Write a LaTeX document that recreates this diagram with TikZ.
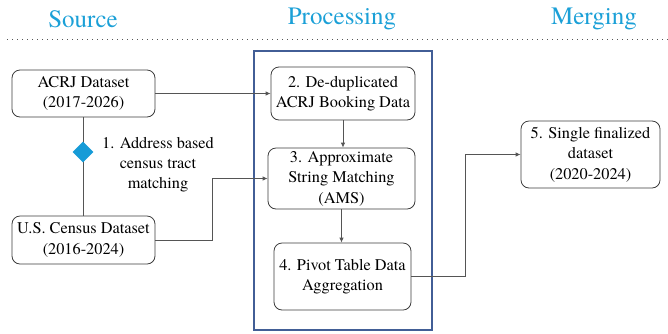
\documentclass[tikz,border=0pt]{standalone}
\usepackage{fontspec}
\setmainfont{texgyretermes}[Extension=.otf,UprightFont=*-regular,BoldFont=*-bold,ItalicFont=*-italic,BoldItalicFont=*-bolditalic]
\usetikzlibrary{arrows.meta,shapes.geometric}
\definecolor{headblue}{RGB}{27,160,215}
\definecolor{framecol}{RGB}{66,94,150}
\definecolor{linecol}{RGB}{85,85,85}
\definecolor{boxline}{RGB}{60,60,60}
\definecolor{diamondcol}{RGB}{22,155,215}
\tikzset{
  heading/.style={text=headblue,font=\fontsize{25}{28}\selectfont,inner sep=0pt},
  stepbox/.style={draw=boxline,line width=0.8pt,rounded corners=8pt,align=center,
    font=\fontsize{16.3}{20.5}\selectfont,inner sep=0pt},
  plain/.style={align=center,font=\fontsize{16.3}{20}\selectfont,inner sep=0pt},
  conn/.style={draw=linecol,line width=0.8pt},
  arr/.style={conn,-{Latex[length=5pt,width=4.5pt]}},
}
\begin{document}
\begin{tikzpicture}[x=1pt,y=-1pt]
\useasboundingbox (0,0) rectangle (668,333);

% column headings and divider
\node[heading] (hsrc) at (83,19) {Source};
\node[heading] (hproc) at (342,19) {Processing};
\node[heading] (hmerge) at (594,19) {Merging};
\draw[linecol,line width=1pt,dash pattern=on 1pt off 4pt] (7,39) -- (668,39);

% processing frame
\draw[framecol,line width=1.6pt] (254,51) rectangle (432,330);

% source boxes
\node[stepbox,minimum width=143pt,minimum height=47pt] (acrj) at (83.5,93.5) {ACRJ Dataset\\(2017-2026)};
\node[stepbox,minimum width=143pt,minimum height=48pt] (census) at (83.5,240) {U.S. Census Dataset\\(2016-2024)};

% processing boxes
\node[stepbox,minimum width=144pt,minimum height=53pt] (dedup) at (343,93.5) {2. De-duplicated\\ACRJ Booking Data};
\node[stepbox,minimum width=147pt,minimum height=61pt] (ams) at (341.5,178.5) {3. Approximate\\String Matching\\(AMS)};
\node[stepbox,minimum width=137pt,minimum height=67pt] (pivot) at (342.5,276.5) {4. Pivot Table Data\\Aggregation};

% merged result
\node[stepbox,minimum width=139pt,minimum height=67pt] (final) at (590.5,154.5) {5. Single finalized\\dataset\\(2020-2024)};

% census tract link
\draw[conn] (acrj.south) -- (census.north);
\node[diamond,fill=diamondcol,minimum width=21pt,minimum height=21pt,inner sep=0pt] (link) at (83,152) {};
\node[plain] (linklbl) at (158,164.5) {1. Address based\\census tract\\matching};

% flow connectors
\draw[arr] (acrj.east) -- (dedup.west);
\coordinate (c1) at (212,240);
\coordinate (c2) at (212,178.5);
\draw[arr] (census.east) -- (c1) -- (c2) -- (ams.west);
\draw[arr] (dedup.south) -- (ams.north -| dedup.south);
\draw[arr] (ams.south) -- (pivot.north -| ams.south);
\coordinate (m1) at (465,276.5);
\coordinate (m2) at (465,154.5);
\draw[arr] (pivot.east) -- (m1) -- (m2) -- (final.west);
\end{tikzpicture}
\end{document}
